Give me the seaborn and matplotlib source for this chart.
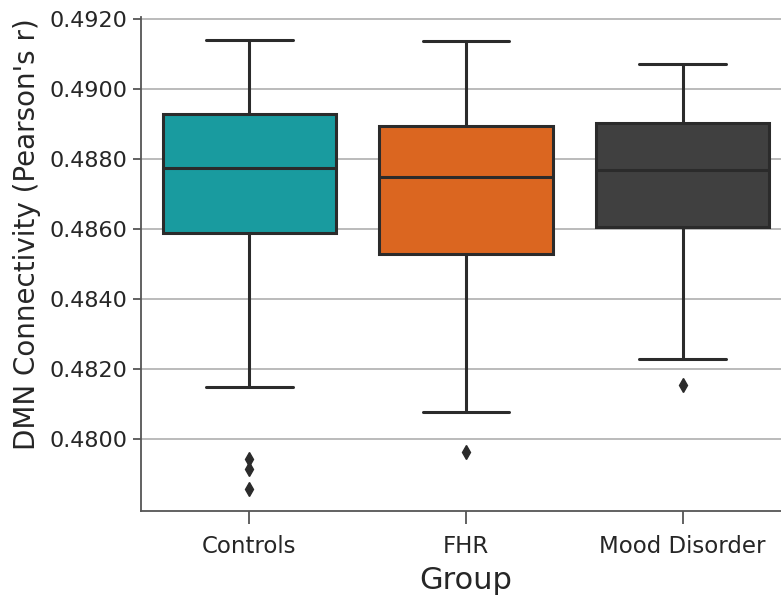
import matplotlib
matplotlib.use("Agg")
import matplotlib.pyplot as plt
import seaborn as sns
import pandas as pd

groups = ["Controls", "FHR", "Mood Disorder"]
controls = [0.47858, 0.47915, 0.47943, 0.48147, 0.48420, 0.48587, 0.48630,
            0.48680, 0.48720, 0.48750, 0.48774, 0.48800, 0.48840, 0.48870,
            0.48900, 0.48929, 0.48970, 0.49010, 0.49050, 0.49100, 0.49140]
fhr = [0.47963, 0.48077, 0.48300, 0.48410, 0.48480, 0.48529, 0.48590,
       0.48640, 0.48680, 0.48720, 0.48747, 0.48780, 0.48810, 0.48840,
       0.48870, 0.48893, 0.48950, 0.49000, 0.49050, 0.49100, 0.49135]
mood = [0.48155, 0.48229, 0.48400, 0.48500, 0.48560, 0.48605, 0.48650,
        0.48690, 0.48720, 0.48750, 0.48769, 0.48790, 0.48820, 0.48850,
        0.48880, 0.48901, 0.48940, 0.48980, 0.49010, 0.49040, 0.49070]
colors = ["#199b9f", "#db6620", "#404040"]
yticks = [0.4800, 0.4820, 0.4840, 0.4860, 0.4880, 0.4900, 0.4920]
ytick_labels = ["0.4800", "0.4820", "0.4840", "0.4860", "0.4880", "0.4900", "0.4920"]

df = pd.DataFrame({
    "Group": [groups[0]] * len(controls) + [groups[1]] * len(fhr) + [groups[2]] * len(mood),
    "value": controls + fhr + mood,
})

sns.set_style("white")
plt.rcParams["font.family"] = ["DejaVu Sans"]

fig = plt.figure(figsize=(7.81, 5.97), dpi=100)
ax = fig.add_axes([141 / 781, 86 / 597, 650 / 781, (511 - 17.3) / 597])

edge = "#2b2b2b"
sns.boxplot(data=df, x="Group", y="value", hue="Group", order=groups,
            palette=dict(zip(groups, colors)), saturation=1, legend=False,
            width=0.8, linewidth=2.2, linecolor=edge,
            flierprops=dict(marker="d", markerfacecolor=edge,
                            markeredgecolor=edge, markersize=7.5),
            ax=ax)

ax.yaxis.grid(True, color="#b5b5b5", linewidth=1.3)
ax.set_axisbelow(True)
ax.set_yticks(yticks)
ax.set_yticklabels(ytick_labels)
ax.tick_params(axis="y", labelsize=16, length=6, width=1.3, color="#555555", left=True)
ax.tick_params(axis="x", labelsize=16.5, length=9, width=1.3, color="#555555",
               bottom=True, pad=8)
ax.set_ylabel("DMN Connectivity (Pearson's r)", fontsize=20, labelpad=6)
ax.yaxis.label.set_y(0.561)
ax.set_xlabel("Group", fontsize=22, labelpad=6)
for s in ["top", "right"]:
    ax.spines[s].set_visible(False)
for s in ["left", "bottom"]:
    ax.spines[s].set_color("#555555")
    ax.spines[s].set_linewidth(1.3)

fig.savefig("out.png", dpi=100)
